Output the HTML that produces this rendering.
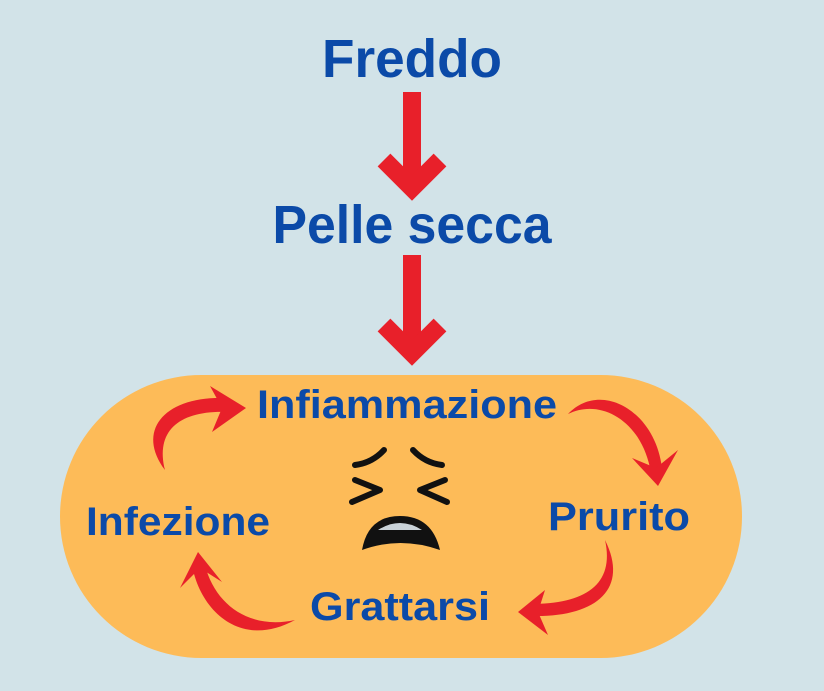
<!DOCTYPE html>
<html><head><meta charset="utf-8"><style>
html,body{margin:0;padding:0;background:#d2e3e8;}
svg{display:block}
text{font-family:"Liberation Sans",sans-serif;font-weight:bold;fill:#0b4aa8}
</style></head><body>
<svg width="824" height="691" viewBox="0 0 824 691">
<rect width="824" height="691" fill="#d2e3e8"/>
<text x="412" y="77" font-size="54" text-anchor="middle" textLength="180" lengthAdjust="spacingAndGlyphs">Freddo</text>
<text x="412" y="243" font-size="54" text-anchor="middle" textLength="279" lengthAdjust="spacingAndGlyphs">Pelle secca</text>
<g stroke="#e8202a" stroke-width="18" fill="none" stroke-linecap="butt" stroke-linejoin="miter">
<line x1="412" y1="92" x2="412" y2="180"/>
<polyline points="384,160 412,188 440,160"/>
<line x1="412" y1="255" x2="412" y2="345"/>
<polyline points="384,325 412,353 440,325"/>
</g>
<rect x="60" y="375" width="682" height="283" rx="141.5" fill="#fdbb58"/>
<text x="257" y="418" font-size="40" textLength="300" lengthAdjust="spacingAndGlyphs">Infiammazione</text>
<text x="548" y="530" font-size="40" textLength="142" lengthAdjust="spacingAndGlyphs">Prurito</text>
<text x="86" y="535" font-size="40" textLength="184" lengthAdjust="spacingAndGlyphs">Infezione</text>
<text x="310" y="620" font-size="40" textLength="180" lengthAdjust="spacingAndGlyphs">Grattarsi</text>
<g fill="#e8202a">
<path d="M165,470 C135,430 165,395 228,398 L228,412 C180,410 155,430 165,470Z"/>
<path d="M568,414 C600,380 655,410 662,468 L650,468 C640,420 600,398 568,414Z"/>
<path d="M605,540 C630,590 595,618 530,616 L530,604 C585,604 615,585 605,540Z"/>
<path d="M295,620 C240,650 200,610 192,565 L205,565 C215,605 250,630 295,620Z"/>
<polygon points="210,386 246,408 212,432 222,408"/>
<polygon points="632,458 658,486 678,450 656,468"/>
<polygon points="545,590 518,612 548,635 538,612"/>
<polygon points="180,588 198,552 222,582 200,568"/>
</g>
<g fill="none" stroke="#111" stroke-width="6" stroke-linecap="round" stroke-linejoin="round">
<path d="M355,465 Q372,463 384,450"/>
<path d="M413,450 Q425,463 442,465"/>
<polyline points="355,480 380,490 352,502"/>
<polyline points="445,480 420,490 447,502"/>
</g>
<path d="M362,550 Q368,516 400,516 Q432,516 440,550 Q400,536 362,550Z" fill="#111"/>
<path d="M378,530 Q400,516 422,530 Z" fill="#c9d2d8"/>
</svg>
</body></html>
